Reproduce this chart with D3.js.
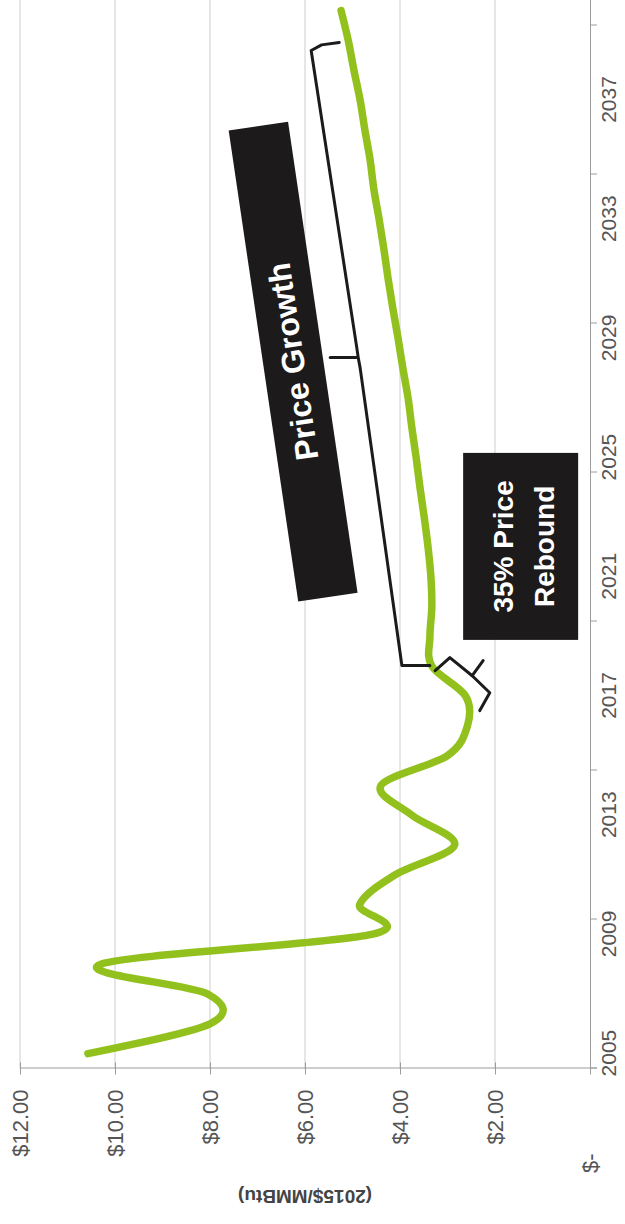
<!DOCTYPE html>
<html>
<head>
<meta charset="utf-8">
<script src="https://cdn.jsdelivr.net/npm/d3@7/dist/d3.min.js"></script>
<style>
  html, body { margin: 0; padding: 0; background: #fff; }
  svg { display: block; }
</style>
</head>
<body>
<svg id="chart" width="625" height="1224"></svg>
<script>
// Henry Hub natural gas price outlook, 2015 dollars per MMBtu
const years = [2005, 2006, 2007, 2008, 2009, 2010, 2011, 2012, 2013, 2014,
               2015, 2016, 2017, 2018, 2019, 2020, 2021, 2022, 2023, 2024,
               2025, 2026, 2027, 2028, 2029, 2030, 2031, 2032, 2033, 2034,
               2035, 2036, 2037, 2038, 2039, 2040];
const prices = [10.57, 8.00, 8.05, 10.30, 4.60, 4.85, 4.10, 2.85, 3.75, 4.40,
                3.00, 2.58, 2.62, 3.33, 3.37, 3.33, 3.35, 3.41, 3.49, 3.58,
                3.66, 3.75, 3.83, 3.94, 4.04, 4.15, 4.25, 4.34, 4.44, 4.55,
                4.63, 4.74, 4.84, 4.97, 5.09, 5.24];
const valueTicks = [0, 2, 4, 6, 8, 10, 12];
const valueTickLabels = ["$-", "$2.00", "$4.00", "$6.00", "$8.00", "$10.00", "$12.00"];
const yearLabels = [2005, 2009, 2013, 2017, 2021, 2025, 2029, 2033, 2037];
const axisTitle = "(2015$/MMBtu)";

// Annotation braces, in (year, price) coordinates
const growthBrace = [[2038.93, 5.28], [2038.85, 5.65], [2038.66, 5.87],
                     [2028.69, 4.91], [2028.36, 4.88], [2028.36, 5.47],
                     [2028.36, 4.88], [2028.02, 4.84], [2018.02, 3.96],
                     [2018.02, 3.37]];
const reboundBrace = [[2017.85, 3.26], [2018.29, 2.95], [2017.68, 2.48],
                      [2017.11, 2.11], [2016.51, 2.32]];
const reboundTip = [[2017.68, 2.48], [2018.19, 2.25]];

const data = years.map((yr, i) => ({ year: yr, price: prices[i] }));

// The chart is laid out landscape and turned a quarter turn counter-clockwise
const W = 1224, H = 625;
const svg = d3.select("#chart");
const g = svg.append("g").attr("transform", `translate(0,${W}) rotate(-90)`);

const catW = 29.8;
const x0 = 155.5;
const x = d3.scaleLinear()
  .domain([years[0] - 0.5, years[years.length - 1] + 0.5])
  .range([x0, x0 + years.length * catW]);
const y = d3.scaleLinear().domain([0, 12]).range([590, 20]);

const axisFont = "'Liberation Sans Narrow', 'Arial Narrow', 'Liberation Sans', Arial, sans-serif";

// Horizontal gridlines
g.append("g").selectAll("line")
  .data(valueTicks.filter(v => v > 0))
  .join("line")
  .attr("x1", x.range()[0]).attr("x2", x.range()[1])
  .attr("y1", d => y(d)).attr("y2", d => y(d))
  .attr("stroke", "#cdcdcd").attr("stroke-width", 1);

// Category axis: tick marks every five years, labels every four
const boundaries = years.filter((d, i) => i % 5 === 0).map(d => d - 0.5);
const xTickAxis = d3.axisBottom(x).tickValues(boundaries).tickSize(7).tickFormat("");
const xTicks = g.append("g").attr("transform", `translate(0,${y(0)})`).call(xTickAxis);
xTicks.select(".domain").attr("stroke", "#9c9c9c");
xTicks.selectAll(".tick line").attr("stroke", "#9c9c9c");

const xLabelAxis = d3.axisBottom(x).tickValues(yearLabels).tickSize(0).tickPadding(11)
  .tickFormat(d3.format("d"));
const xLabels = g.append("g").attr("transform", `translate(0,${y(0)})`).call(xLabelAxis);
xLabels.select(".domain").remove();
xLabels.selectAll("text")
  .attr("font-family", axisFont).attr("font-size", 21).attr("fill", "#555");

// Value axis with crossing tick marks
const yAxis = d3.axisLeft(y).tickValues(valueTicks).tickSize(0).tickPadding(21)
  .tickFormat((d, i) => valueTickLabels[i]);
const yAx = g.append("g").attr("transform", `translate(${x0},0)`).call(yAxis);
yAx.select(".domain").attr("stroke", "#9c9c9c");
yAx.selectAll("text")
  .attr("font-family", axisFont).attr("font-size", 22).attr("fill", "#555")
  .attr("dx", d => d === 0 ? -64 : 0);
yAx.selectAll(".tick").append("line")
  .attr("x1", -6).attr("x2", 6).attr("stroke", "#9c9c9c");

// Axis title
g.append("text")
  .attr("transform", `translate(28,${(y(0) + y(12)) / 2}) rotate(-90)`)
  .attr("text-anchor", "middle").attr("dominant-baseline", "central")
  .attr("font-family", "'Liberation Sans', Arial, sans-serif")
  .attr("font-weight", "bold").attr("font-size", 19).attr("fill", "#444")
  .text(axisTitle);

// Price series
const line = d3.line().x(d => x(d.year)).y(d => y(d.price))
  .curve(d3.curveCatmullRom.alpha(0));
g.append("path").datum(data)
  .attr("d", line)
  .attr("fill", "none").attr("stroke", "#92c11e")
  .attr("stroke-width", 7.5).attr("stroke-linecap", "round").attr("stroke-linejoin", "round");

// Braces
const braceLine = d3.line().x(d => x(d[0])).y(d => y(d[1]));
[growthBrace, reboundBrace, reboundTip].forEach(pts => {
  g.append("path").attr("d", braceLine(pts))
    .attr("fill", "none").attr("stroke", "#1b1b1b").attr("stroke-width", 3)
    .attr("stroke-linejoin", "round").attr("stroke-linecap", "round");
});

// "Price Growth" label box, tilted along the trend
const pg = g.append("g")
  .attr("transform", `translate(${x(2028.22)},${y(6.25)}) rotate(-8.4)`);
pg.append("rect").attr("x", -238).attr("y", -30).attr("width", 476).attr("height", 60)
  .attr("fill", "#1c1a1a");
pg.append("text").attr("text-anchor", "middle").attr("dominant-baseline", "central")
  .attr("font-family", "'Liberation Sans', Arial, sans-serif")
  .attr("font-weight", "bold").attr("font-size", 32).attr("fill", "#fff")
  .text("Price Growth");

// "35% Price Rebound" label box
const rb = g.append("g").attr("transform", `translate(${x(2022.02)},${y(1.46)})`);
rb.append("rect").attr("x", -93.5).attr("y", -57.5).attr("width", 187).attr("height", 115)
  .attr("fill", "#1c1a1a");
const rbText = rb.append("text").attr("text-anchor", "middle")
  .attr("font-family", "'Liberation Sans', Arial, sans-serif")
  .attr("font-weight", "bold").attr("font-size", 28).attr("fill", "#fff");
rbText.append("tspan").attr("x", 0).attr("y", -8).text("35% Price");
rbText.append("tspan").attr("x", 0).attr("y", 33).text("Rebound");
</script>
</body>
</html>
